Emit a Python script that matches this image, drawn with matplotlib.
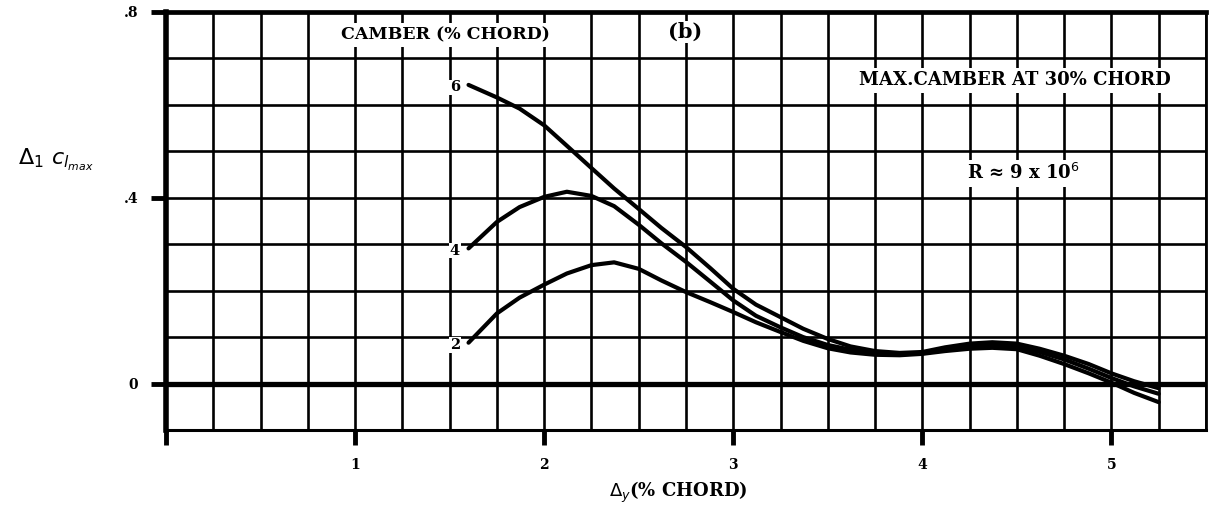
import numpy as np
import matplotlib
matplotlib.use("Agg")
import matplotlib.pyplot as plt

# ---- data ----
x_c6 = [1.60, 1.75, 1.87, 2.00, 2.12, 2.25, 2.37, 2.50, 2.62, 2.75, 2.88, 3.00, 3.12, 3.25, 3.37, 3.50, 3.62, 3.75, 3.88, 4.00, 4.12, 4.25, 4.37, 4.50, 4.62, 4.75, 4.88, 5.00, 5.12, 5.25]
y_c6 = [0.643, 0.616, 0.592, 0.556, 0.512, 0.464, 0.420, 0.376, 0.335, 0.294, 0.248, 0.204, 0.170, 0.143, 0.118, 0.096, 0.080, 0.070, 0.066, 0.068, 0.078, 0.086, 0.089, 0.086, 0.075, 0.060, 0.042, 0.022, 0.005, -0.010]

x_c4 = [1.60, 1.75, 1.87, 2.00, 2.12, 2.25, 2.37, 2.50, 2.62, 2.75, 2.88, 3.00, 3.12, 3.25, 3.37, 3.50, 3.62, 3.75, 3.88, 4.00, 4.12, 4.25, 4.37, 4.50, 4.62, 4.75, 4.88, 5.00, 5.12, 5.25]
y_c4 = [0.291, 0.348, 0.380, 0.402, 0.413, 0.404, 0.382, 0.342, 0.302, 0.262, 0.219, 0.179, 0.146, 0.121, 0.100, 0.083, 0.073, 0.066, 0.063, 0.065, 0.073, 0.080, 0.083, 0.080, 0.068, 0.052, 0.032, 0.012, -0.006, -0.022]

x_c2 = [1.60, 1.75, 1.87, 2.00, 2.12, 2.25, 2.37, 2.50, 2.62, 2.75, 2.88, 3.00, 3.12, 3.25, 3.37, 3.50, 3.62, 3.75, 3.88, 4.00, 4.12, 4.25, 4.37, 4.50, 4.62, 4.75, 4.88, 5.00, 5.12, 5.25]
y_c2 = [0.088, 0.151, 0.185, 0.213, 0.237, 0.255, 0.261, 0.247, 0.222, 0.197, 0.175, 0.154, 0.132, 0.111, 0.092, 0.076, 0.067, 0.062, 0.061, 0.064, 0.070, 0.075, 0.077, 0.074, 0.060, 0.042, 0.022, 0.002, -0.020, -0.040]

camber_labels = ["6", "4", "2"]
x_major = [0, 1, 2, 3, 4, 5]
x_ticklabels = ["", "1", "2", "3", "4", "5"]
y_major = [0.0, 0.4, 0.8]
y_ticklabels = ["0", ".4", ".8"]

BOLD = dict(family="DejaVu Serif", weight="bold")

fig = plt.figure(figsize=(12.09, 5.08), dpi=100)
ax = fig.add_axes([0.1373, 0.1535, 0.8602, 0.8229])
ax.set_xlim(0, 5.5)
ax.set_ylim(-0.1, 0.8)

# grid
ax.set_xticks(np.arange(0, 5.51, 0.25), minor=True)
ax.set_yticks(np.arange(-0.1, 0.81, 0.1), minor=True)
ax.set_xticks(x_major)
ax.set_xticklabels(x_ticklabels, fontdict=dict(size=10, **BOLD))
ax.set_yticks(y_major)
ax.set_yticklabels(y_ticklabels, fontdict=dict(size=10, **BOLD))
ax.grid(which="both", color="black", linewidth=1.9)
ax.tick_params(which="minor", length=0)
ax.tick_params(which="major", length=11, width=3.5, color="black", pad=9)

ax.axhline(0, color="black", linewidth=3.8, zorder=2)
for side, lw in [("left", 4.0), ("top", 3.4), ("bottom", 2.2), ("right", 2.0)]:
    ax.spines[side].set_linewidth(lw)

# curves
for xs, ys, lab in [(x_c6, y_c6, camber_labels[0]), (x_c4, y_c4, camber_labels[1]), (x_c2, y_c2, camber_labels[2])]:
    ax.plot(xs, ys, color="black", linewidth=3.0, solid_capstyle="round", solid_joinstyle="round", zorder=3)
    ax.text(xs[0] - 0.045, ys[0] - 0.005, lab, ha="right", va="center", fontsize=10.5,
            bbox=dict(facecolor="white", edgecolor="none", pad=0.5), zorder=4, **BOLD)

box = dict(facecolor="white", edgecolor="none", pad=2.5)
ax.text(1.48, 0.75, "CAMBER (% CHORD)", ha="center", va="center", fontsize=12.5, bbox=box, zorder=4, **BOLD)
ax.text(2.746, 0.757, "(b)", ha="center", va="center", fontsize=15, bbox=dict(facecolor="white", edgecolor="none", pad=0.5), zorder=4, **BOLD)
ax.text(4.487, 0.653, "MAX.CAMBER AT 30% CHORD", ha="center", va="center", fontsize=13, bbox=box, zorder=4, **BOLD)
ax.text(4.534, 0.453, "R ≈ 9 x 10$^6$", ha="center", va="center", fontsize=13, bbox=box, zorder=4, **BOLD)

fig.text(0.015, 0.685, r"$\Delta_1\ c_{l_{max}}$", ha="left", va="center", fontsize=16)
fig.text(0.561, 0.03, r"$\Delta_y$(% CHORD)", ha="center", va="center", fontsize=13, **BOLD)

fig.savefig("out.png", dpi=100)
